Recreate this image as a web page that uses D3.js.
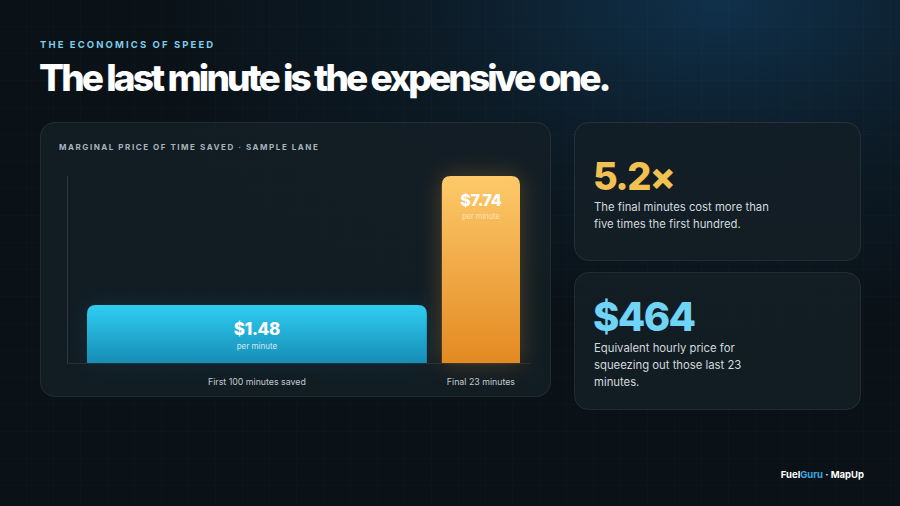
<!DOCTYPE html>
<html><head><meta charset="utf-8">
<script src="https://cdn.jsdelivr.net/npm/d3@7"></script>
<style>
html,body{margin:0;padding:0;background:#0b1218;}
svg{display:block;}
</style></head>
<body>
<svg id="c" width="900" height="506"></svg>
<script>
// ---- data ----
const categories = ["First 100 minutes saved", "Final 23 minutes"];
const minutesSaved = [100, 23];
const pricePerMinute = [1.48, 7.74];
const valueLabels = ["$1.48", "$7.74"];
const statValues = ["5.2×", "$464"];
const statTexts = [
  ["The final minutes cost more than", "five times the first hundred."],
  ["Equivalent hourly price for", "squeezing out those last 23", "minutes."]
];

const W = 900, H = 506;
const svg = d3.select("#c");
const defs = svg.append("defs");
const F = "Inter, 'Noto Sans', sans-serif";

// background
const bgGlow = defs.append("radialGradient").attr("id","bgGlow")
  .attr("cx","0.8").attr("cy","0.0").attr("r","0.65");
bgGlow.append("stop").attr("offset","0").attr("stop-color","#10304a");
bgGlow.append("stop").attr("offset","0.5").attr("stop-color","#0c1b26");
bgGlow.append("stop").attr("offset","1").attr("stop-color","#0a1117");
svg.append("rect").attr("width",W).attr("height",H).attr("fill","url(#bgGlow)");

const pat = defs.append("pattern").attr("id","grid").attr("width",27).attr("height",27)
  .attr("patternUnits","userSpaceOnUse");
pat.append("path").attr("d","M27 0V27M0 27H27").attr("stroke","#ffffff")
  .attr("stroke-opacity",0.025).attr("stroke-width",1).attr("fill","none");
svg.append("rect").attr("width",W).attr("height",H).attr("fill","url(#grid)");

// header
svg.append("text").attr("x",40).attr("y",48).text("THE ECONOMICS OF SPEED")
  .attr("font-family",F).attr("font-size",9.5).attr("font-weight",700)
  .attr("letter-spacing",2.1).attr("fill","#7fcbe8");
svg.append("text").attr("x",39).attr("y",91).text("The last minute is the expensive one.")
  .attr("font-family",F).attr("font-size",37).attr("font-weight",800)
  .attr("letter-spacing",-2.9).attr("fill","#ffffff");

// panels
function panel(x,y,w,h){
  svg.append("rect").attr("x",x+0.5).attr("y",y+0.5).attr("width",w).attr("height",h)
    .attr("rx",14).attr("fill","#141e26").attr("fill-opacity",0.85)
    .attr("stroke","#ffffff").attr("stroke-opacity",0.09);
}
panel(40,122,510,274);
panel(574,122,286,138);
panel(574,272,286,137);

svg.append("text").attr("x",59).attr("y",150).text("MARGINAL PRICE OF TIME SAVED · SAMPLE LANE")
  .attr("font-family",F).attr("font-size",8).attr("font-weight",700)
  .attr("letter-spacing",1.55).attr("fill","#a9b3bb");

// chart scales
const x0 = 87, gap = 15, baseY = 363;
const totalMin = d3.sum(minutesSaved);
const xw = d3.scaleLinear().domain([0,totalMin]).range([0, 520 - x0 - gap]);
const y = d3.scaleLinear().domain([-1.33, 7.74]).range([baseY, 176]);
let cum = 0;
const bars = categories.map((c,i)=>{
  const bx = x0 + xw(cum) + i*gap;
  const bw = xw(minutesSaved[i]);
  cum += minutesSaved[i];
  return {c, i, x:bx, w:bw, top:y(pricePerMinute[i]), label:valueLabels[i]};
});

// axes lines
svg.append("line").attr("x1",67.5).attr("x2",67.5).attr("y1",176).attr("y2",baseY)
  .attr("stroke","#ffffff").attr("stroke-opacity",0.12);
svg.append("line").attr("x1",67).attr("x2",530).attr("y1",baseY+0.5).attr("y2",baseY+0.5)
  .attr("stroke","#ffffff").attr("stroke-opacity",0.08);

// gradients
const gB = defs.append("linearGradient").attr("id","gB").attr("x1",0).attr("x2",0).attr("y1",0).attr("y2",1);
gB.append("stop").attr("offset",0).attr("stop-color","#2fcdf1");
gB.append("stop").attr("offset",1).attr("stop-color","#178db6");
const gO = defs.append("linearGradient").attr("id","gO").attr("x1",0).attr("x2",0).attr("y1",0).attr("y2",1);
gO.append("stop").attr("offset",0).attr("stop-color","#fdc96a");
gO.append("stop").attr("offset",1).attr("stop-color","#e38a22");
const glow = defs.append("filter").attr("id","glow").attr("x","-60%").attr("y","-30%").attr("width","220%").attr("height","160%");
glow.append("feGaussianBlur").attr("stdDeviation",12);

function topRounded(x,yT,w,h,r){
  return `M${x},${yT+h}V${yT+r}Q${x},${yT} ${x+r},${yT}H${x+w-r}Q${x+w},${yT} ${x+w},${yT+r}V${yT+h}Z`;
}
const fills = ["url(#gB)","url(#gO)"];
const glowCol = ["#1aa6d6","#f0a030"];
bars.forEach(b=>{
  svg.append("path").attr("d",topRounded(b.x,b.top,b.w,baseY-b.top,9))
    .attr("fill",glowCol[b.i]).attr("opacity",b.i?0.28:0.12).attr("filter","url(#glow)");
});
bars.forEach(b=>{
  svg.append("path").attr("d",topRounded(b.x,b.top,b.w,baseY-b.top,9)).attr("fill",fills[b.i]);
  const cx = b.x + b.w/2;
  svg.append("text").attr("x",cx).attr("y",b.top+30).attr("text-anchor","middle")
    .text(b.label).attr("font-family",F).attr("font-size",b.i?16:17).attr("font-weight",800)
    .attr("letter-spacing",-0.3).attr("fill","#ffffff");
  svg.append("text").attr("x",cx).attr("y",b.i? b.top+43 : b.top+44).attr("text-anchor","middle")
    .text("per minute").attr("font-family",F).attr("font-size",b.i?7.5:8)
    .attr("fill","#ffffff").attr("fill-opacity",b.i?0.6:0.8);
  svg.append("text").attr("x",cx).attr("y",385).attr("text-anchor","middle")
    .text(b.c).attr("font-family",F).attr("font-size",8.8).attr("fill","#c3cacf");
});

// stat cards
const statColors = ["#f2c152","#6fd4f5"];
const statY = [190, 331];
statValues.forEach((v,i)=>{
  svg.append("text").attr("x",593).attr("y",statY[i]).text(v)
    .attr("font-family",F).attr("font-size",i?40:38).attr("font-weight",800)
    .attr("letter-spacing",-1.6).attr("fill",statColors[i]);
  statTexts[i].forEach((t,j)=>{
    svg.append("text").attr("x",594).attr("y",statY[i]+21+j*17).text(t)
      .attr("font-family",F).attr("font-size",11.3).attr("fill","#d3d9dd");
  });
});

// footer
const ft = svg.append("text").attr("x",864).attr("y",478).attr("text-anchor","end")
  .attr("font-family",F).attr("font-size",9.5).attr("font-weight",700).attr("fill","#ffffff");
ft.append("tspan").text("Fuel");
ft.append("tspan").text("Guru").attr("fill","#3ba7e0");
ft.append("tspan").text(" · MapUp");
</script>
</body></html>
